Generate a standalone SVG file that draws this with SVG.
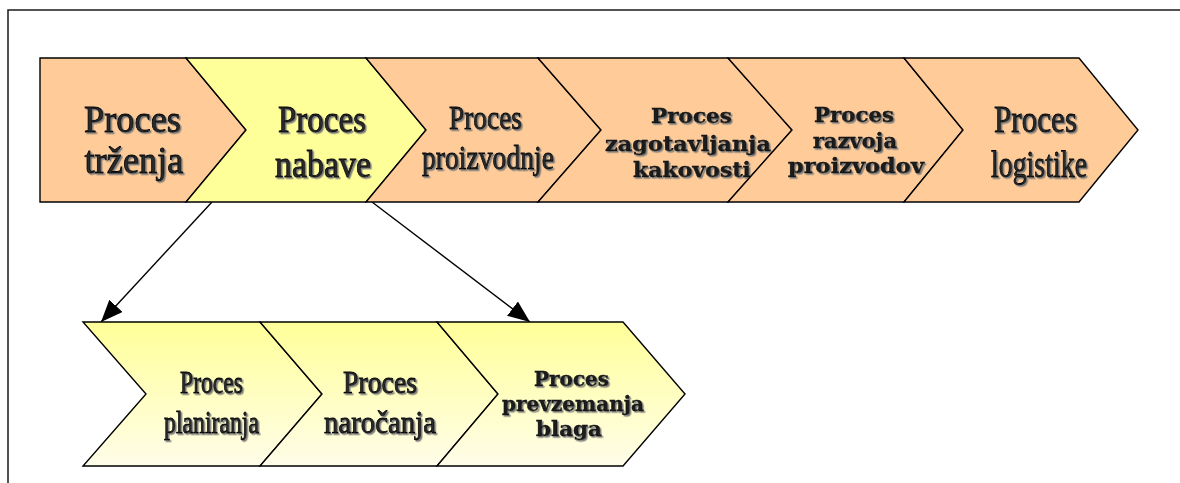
<svg xmlns="http://www.w3.org/2000/svg" width="1180" height="483" viewBox="0 0 1180 483">
<defs>
<style>
.frame{fill:#ffffff;stroke:#1a1a1a;stroke-width:1.5}
.shape{stroke:#000000;stroke-width:1.4;stroke-linejoin:miter}
.orange{fill:#ffcc99}
.yellow{fill:#ffff99}
.pale{fill:url(#paleGrad)}
.big{font-family:"Liberation Serif","Times New Roman",serif;fill:#2a2a2a;stroke:#000000;stroke-width:0.8;text-anchor:middle;filter:url(#shadow)}
.bold{font-family:"DejaVu Serif","Liberation Serif",serif;font-weight:bold;fill:#1a1a1a;stroke:#000000;stroke-width:0.4;text-anchor:middle;filter:url(#shadow)}
.conn{stroke:#000000;stroke-width:1.4;fill:none}
</style>
<linearGradient id="paleGrad" x1="0" y1="0" x2="0" y2="1">
<stop offset="0" stop-color="#ffff99"/>
<stop offset="1" stop-color="#fffde8"/>
</linearGradient>
<filter id="shadow" x="-10%" y="-20%" width="120%" height="140%">
<feDropShadow dx="1.5" dy="1.5" stdDeviation="0.4" flood-color="#7a7a7a" flood-opacity="1"/>
</filter>
<marker id="arrow" markerUnits="userSpaceOnUse" markerWidth="22" markerHeight="18" refX="22" refY="9" orient="auto">
<path d="M0,0 L22,9 L0,18 Z" fill="#000000"/>
</marker>
</defs>

<rect class="frame" x="8" y="10" width="1200" height="500"/>

<g id="connectors">
<line class="conn" x1="212" y1="202" x2="101" y2="322" marker-end="url(#arrow)"/>
<line class="conn" x1="372" y1="202" x2="530" y2="322" marker-end="url(#arrow)"/>
</g>

<g id="node-trzenja">
<path class="shape orange" d="M40,58 L186,58 L246,130 L186,202 L40,202 Z"/>
<text class="big" font-size="37" x="132.5" y="132" textLength="97" lengthAdjust="spacingAndGlyphs">Proces</text>
<text class="big" font-size="37" x="134" y="173" textLength="99" lengthAdjust="spacingAndGlyphs">trženja</text>
</g>

<g id="node-nabave">
<path class="shape yellow" d="M186,58 L366,58 L426,130 L366,202 L186,202 L246,130 Z"/>
<text class="big" font-size="37" x="322" y="132" textLength="88" lengthAdjust="spacingAndGlyphs">Proces</text>
<text class="big" font-size="37" x="323" y="177" textLength="96" lengthAdjust="spacingAndGlyphs">nabave</text>
</g>

<g id="node-proizvodnje">
<path class="shape orange" d="M366,58 L538,58 L601,130 L538,202 L366,202 L426,130 Z"/>
<text class="big" font-size="34" x="485.5" y="129" textLength="73" lengthAdjust="spacingAndGlyphs">Proces</text>
<text class="big" font-size="34" x="488" y="169" textLength="132" lengthAdjust="spacingAndGlyphs">proizvodnje</text>
</g>

<g id="node-zagotavljanja">
<path class="shape orange" d="M538,58 L728,58 L792,130 L728,202 L538,202 L601,130 Z"/>
<text class="bold" font-size="21" x="691.5" y="123" textLength="81" lengthAdjust="spacingAndGlyphs">Proces</text>
<text class="bold" font-size="21" x="688" y="151" textLength="166" lengthAdjust="spacingAndGlyphs">zagotavljanja</text>
<text class="bold" font-size="21" x="692" y="177" textLength="118" lengthAdjust="spacingAndGlyphs">kakovosti</text>
</g>

<g id="node-razvoja">
<path class="shape orange" d="M728,58 L904,58 L963,130 L904,202 L728,202 L792,130 Z"/>
<text class="bold" font-size="20" x="854" y="122" textLength="80" lengthAdjust="spacingAndGlyphs">Proces</text>
<text class="bold" font-size="20" x="855" y="148" textLength="84" lengthAdjust="spacingAndGlyphs">razvoja</text>
<text class="bold" font-size="20" x="856" y="173" textLength="136" lengthAdjust="spacingAndGlyphs">proizvodov</text>
</g>

<g id="node-logistike">
<path class="shape orange" d="M904,58 L1079,58 L1138,130 L1079,202 L904,202 L963,130 Z"/>
<text class="big" font-size="38" x="1035.5" y="132" textLength="83" lengthAdjust="spacingAndGlyphs">Proces</text>
<text class="big" font-size="38" x="1039" y="177" textLength="96" lengthAdjust="spacingAndGlyphs">logistike</text>
</g>

<g id="node-planiranja">
<path class="shape pale" d="M83,322 L260,322 L322,394 L260,466 L83,466 L146,394 Z"/>
<text class="big" font-size="32" x="211.5" y="393" textLength="63" lengthAdjust="spacingAndGlyphs">Proces</text>
<text class="big" font-size="32" x="211.5" y="433" textLength="95" lengthAdjust="spacingAndGlyphs">planiranja</text>
</g>

<g id="node-narocanja">
<path class="shape pale" d="M260,322 L437,322 L498,394 L437,466 L260,466 L322,394 Z"/>
<text class="big" font-size="32" x="380" y="393" textLength="74" lengthAdjust="spacingAndGlyphs">Proces</text>
<text class="big" font-size="32" x="380" y="433" textLength="112" lengthAdjust="spacingAndGlyphs">naročanja</text>
</g>

<g id="node-prevzemanja">
<path class="shape pale" d="M437,322 L623,322 L685,394 L623,466 L437,466 L498,394 Z"/>
<text class="bold" font-size="20" x="571.5" y="386" textLength="75" lengthAdjust="spacingAndGlyphs">Proces</text>
<text class="bold" font-size="20" x="573" y="411" textLength="142" lengthAdjust="spacingAndGlyphs">prevzemanja</text>
<text class="bold" font-size="20" x="569" y="436" textLength="66" lengthAdjust="spacingAndGlyphs">blaga</text>
</g>
</svg>
